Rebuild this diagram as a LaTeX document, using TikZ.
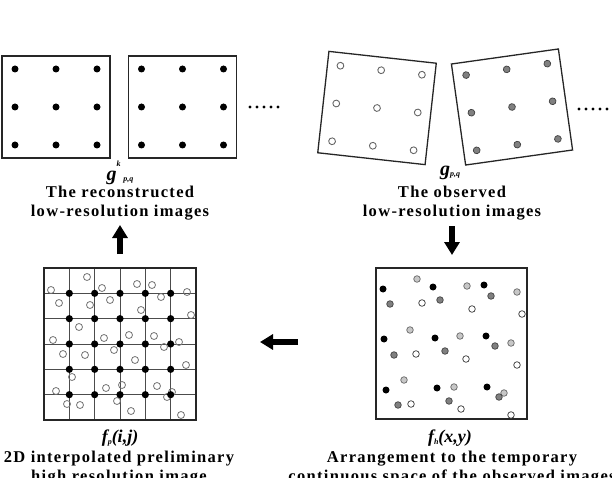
\documentclass[tikz,border=0pt]{standalone}
\usepackage{fontspec}
\setmainfont{Liberation Serif}
\newfontfamily\capfont{Liberation Serif}[LetterSpace=8]
\usetikzlibrary{arrows.meta}

\begin{document}
\begin{tikzpicture}[
    x=1pt, y=-1pt,
    frameBox/.style={
        rectangle, draw=black!85, line width=1.3pt, inner sep=0pt,
        minimum width=108pt, minimum height=102pt
    },
    bigFrame/.style={frameBox, minimum width=152pt, minimum height=152pt},
    gridLine/.style={draw=black!70, line width=0.8pt},
    blackDot/.style={fill=black},
    openDot/.style={draw=black!60, fill=white, line width=0.9pt},
    greyDot/.style={draw=black!75, fill=black!50, line width=0.7pt},
    lightDot/.style={draw=black!60, fill=black!22, line width=0.7pt},
    whiteDot/.style={draw=black!80, fill=white, line width=0.7pt},
    ringDot/.style={draw=black!55, line width=0.8pt},
    symLabel/.style={inner sep=0pt, font=\bfseries\itshape\fontsize{20}{20}\selectfont},
    capLabel/.style={inner sep=0pt, align=center,
        font=\capfont\bfseries\fontsize{16.5}{19.5}\selectfont},
    bigArrow/.style={line width=6pt, -{Triangle[width=15pt,length=13pt]}}
]
    \clip (0,0) rectangle (612,478);

    % --- 1. Reconstructed low-resolution images ---
    \node[frameBox] (rec1) at (56,107) {};
    \node[frameBox] (rec2) at (182.5,107) {};
    \foreach \frm in {rec1,rec2}{
        \begin{scope}[shift={(\frm.center)}]
            \foreach \dx in {-41,0,41}
                \foreach \dy in {-38,0,38}
                    \fill[blackDot] (\dx,\dy) circle (3.5);
        \end{scope}
    }
    \foreach \x in {250,257,264,271,278}
        \fill (\x,107) circle (1.7);

    \node[symLabel] (gk) at (120,173) {g\rlap{\raisebox{1.5ex}{\fontsize{8}{8}\selectfont k}}\,\,\raisebox{-0.15ex}{\fontsize{8}{8}\selectfont p,q}};
    \node[capLabel] (recText) at (120,203) {The reconstructed\\low-resolution images};

    % --- 2. Observed low-resolution images ---
    \node[frameBox, rotate=-6.3] (obs1) at (377,108) {};
    \node[frameBox, rotate=8] (obs2) at (512,107) {};
    \begin{scope}[shift={(obs1.center)}, rotate=-6.3]
        \foreach \dx in {-41,0,41}
            \foreach \dy in {-38,0,38}
                \filldraw[openDot] (\dx,\dy) circle (3.4);
    \end{scope}
    \begin{scope}[shift={(obs2.center)}, rotate=8]
        \foreach \dx in {-41,0,41}
            \foreach \dy in {-38,0,38}
                \filldraw[greyDot] (\dx,\dy) circle (3.4);
    \end{scope}
    \foreach \x in {579,586,593,600,607}
        \fill (\x,109) circle (1.7);

    \node[symLabel] (gpq) at (450,173) {g\raisebox{-0.15ex}{\fontsize{8}{8}\selectfont p,q}};
    \node[capLabel] (obsText) at (452,203) {The observed\\low-resolution images};

    % --- 3. Temporary continuous space ---
    \node[bigFrame, minimum width=151pt, minimum height=151pt] (cont) at (451.5,343.5) {};
    \foreach \x/\y in {383/289,433/287,484/285,384/339,435/338,486/336,386/390,437/388,487/387}
        \fill[blackDot] (\x,\y) circle (3.5);
    \foreach \x/\y in {417/279,467/286,517/292,410/330,460/336,511/343,404/380,454/387,504/393}
        \filldraw[lightDot] (\x,\y) circle (3.3);
    \foreach \x/\y in {491/296,390/304,440/300,495/346,394/355,445/351,499/397,398/405,449/401}
        \filldraw[greyDot] (\x,\y) circle (3.3);
    \foreach \x/\y in {422/303,472/309,522/314,416/354,466/359,517/365,411/404,461/409,511/415}
        \filldraw[whiteDot] (\x,\y) circle (3.3);

    \node[symLabel, font=\bfseries\itshape\fontsize{18}{18}\selectfont] (fh) at (450,438)
        {f\raisebox{-0.3ex}{\fontsize{8}{8}\selectfont h}(x,y)};
    \node[capLabel] (contText) at (452,468) {Arrangement to the temporary\\continuous space of the observed images};

    % --- 4. Interpolated high-resolution image ---
    \node[bigFrame] (interp) at (120,344) {};
    \foreach \i in {1,...,5}{
        \draw[gridLine] (44+25.333*\i,268) -- (44+25.333*\i,420);
        \draw[gridLine] (44,268+25.333*\i) -- (196,268+25.333*\i);
    }
    \foreach \x/\y in {51/290,87/277,102/288,137/284,152/285,187/292,
                       59/303,90/305,110/300,141/310,161/297,191/315,
                       79/327,53/340,104/338,129/335,154/336,179/342,164/347,
                       63/354,85/355,114/350,135/360,186/365,
                       72/377,56/391,106/388,122/385,157/386,172/392,167/397,
                       67/404,80/405,117/401,131/411,181/415}
        \draw[ringDot] (\x,\y) circle (3.5);
    \foreach \i in {1,...,5}
        \foreach \j in {1,...,5}
            \fill[blackDot] (44+25.333*\i,268+25.333*\j) circle (3.6);
    \node[bigFrame] at (interp.center) {};

    \node[symLabel, font=\bfseries\itshape\fontsize{18}{18}\selectfont] (fp) at (120,438)
        {f\raisebox{-0.3ex}{\fontsize{8}{8}\selectfont p}(i,j)};
    \node[capLabel] (interpText) at (119,468) {2D interpolated preliminary\\high resolution image};

    % --- 5. Arrows ---
    \coordinate (upFrom) at (120,254);
    \coordinate (upTo) at (120,225);
    \coordinate (downFrom) at (452,226);
    \coordinate (downTo) at (452,255);
    \coordinate (leftFrom) at (298,342);
    \coordinate (leftTo) at (260,342);
    \draw[bigArrow] (upFrom) -- (upTo);
    \draw[bigArrow] (downFrom) -- (downTo);
    \draw[bigArrow] (leftFrom) -- (leftTo);
\end{tikzpicture}
\end{document}
